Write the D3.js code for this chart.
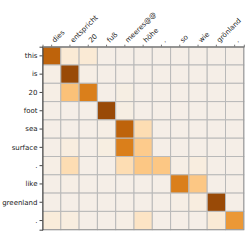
<!DOCTYPE html>
<html><head><meta charset="utf-8">
<script src="https://cdn.jsdelivr.net/npm/d3@7"></script>
<style>body{margin:0;background:#fff}svg{display:block}text{font-family:"DejaVu Sans",sans-serif;font-size:7px;fill:#222}</style>
</head><body><svg id="c" width="249" height="249"></svg>
<script>
const rowLabels = ["this","is","20","foot","sea","surface",".","like","greenland","."];
const colLabels = ["dies","entspricht","20","fuß","meeres@@","höhe",".","so","wie","grönland","."];
const attention = [
  [0.75,0.10,0.10,0.02,0.02,0.02,0.02,0.02,0.02,0.02,0.02],
  [0.03,0.90,0.03,0.02,0.02,0.02,0.02,0.02,0.02,0.02,0.02],
  [0.03,0.35,0.62,0.02,0.04,0.02,0.02,0.02,0.02,0.02,0.02],
  [0.02,0.02,0.02,0.90,0.04,0.02,0.02,0.02,0.02,0.02,0.02],
  [0.02,0.02,0.02,0.03,0.75,0.20,0.02,0.02,0.02,0.02,0.02],
  [0.02,0.06,0.02,0.05,0.62,0.30,0.02,0.02,0.02,0.02,0.02],
  [0.03,0.20,0.02,0.02,0.20,0.32,0.32,0.03,0.06,0.02,0.02],
  [0.02,0.03,0.02,0.02,0.02,0.02,0.02,0.62,0.32,0.02,0.02],
  [0.02,0.02,0.02,0.02,0.02,0.02,0.02,0.03,0.06,0.90,0.02],
  [0.08,0.06,0.02,0.02,0.03,0.15,0.02,0.02,0.02,0.10,0.52]
];
const svg = d3.select("#c");
const x0 = 42.5, y0 = 46.7, cw = 18.3;
const x = d3.scaleBand().domain(d3.range(colLabels.length)).range([x0, x0 + cw*colLabels.length]);
const y = d3.scaleBand().domain(d3.range(rowLabels.length)).range([y0, y0 + cw*rowLabels.length]);
const color = v => d3.interpolatePuOr(0.5 + 0.5*v);
const cells = [];
attention.forEach((r,i)=>r.forEach((v,j)=>cells.push({i,j,v})));
svg.append("g").selectAll("rect").data(cells).join("rect")
  .attr("x",d=>x(d.j)).attr("y",d=>y(d.i))
  .attr("width",x.bandwidth()).attr("height",y.bandwidth())
  .attr("fill",d=>color(d.v)).attr("stroke","#b9b9b9").attr("stroke-width",1);
svg.append("rect").attr("x",x0).attr("y",y0).attr("width",cw*colLabels.length).attr("height",cw*rowLabels.length)
  .attr("fill","none").attr("stroke","#999").attr("stroke-width",1);
// left axis
const ya = svg.append("g").attr("transform",`translate(${x0},0)`)
  .call(d3.axisLeft(y).tickFormat(i=>rowLabels[i]).tickSize(3).tickPadding(2));
ya.select(".domain").attr("stroke","#444");
ya.selectAll(".tick line").attr("stroke","#444");
ya.selectAll("text").style("font-size","7px");
// top axis
const xa = svg.append("g").attr("transform",`translate(0,${y0})`)
  .call(d3.axisTop(x).tickFormat(j=>colLabels[j]).tickSize(2).tickPadding(2));
xa.select(".domain").attr("stroke","#777");
xa.selectAll(".tick line").attr("stroke","#777");
xa.selectAll("text").style("font-size","7px").attr("text-anchor","start")
  .attr("transform","translate(3.2,-3.6) rotate(-45)").attr("y",0).attr("x",0).attr("dy",0);
</script></body></html>
